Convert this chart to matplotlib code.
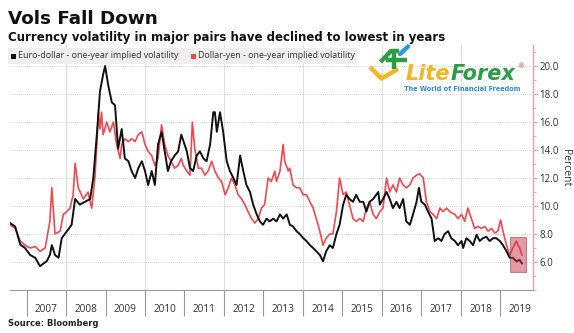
import matplotlib
matplotlib.use("Agg")
import matplotlib.pyplot as plt
from matplotlib.patches import Rectangle
from matplotlib.ticker import MultipleLocator, FixedLocator

# euro-dollar 1y implied vol (decimal year, percent)
eur_t = [2006.58, 2006.71, 2006.84, 2006.96, 2007.09, 2007.22, 2007.34, 2007.43, 2007.51, 2007.59,
         2007.64, 2007.72, 2007.81, 2007.89, 2008.02, 2008.14, 2008.23, 2008.35, 2008.48, 2008.61,
         2008.69, 2008.78, 2008.86, 2008.94, 2008.99, 2009.07, 2009.16, 2009.24, 2009.32, 2009.41,
         2009.49, 2009.58, 2009.66, 2009.75, 2009.83, 2009.92, 2010.00, 2010.08, 2010.17, 2010.25,
         2010.33, 2010.42, 2010.50, 2010.58, 2010.66, 2010.75, 2010.84, 2010.92, 2011.00, 2011.06,
         2011.14, 2011.22, 2011.31, 2011.39, 2011.48, 2011.56, 2011.65, 2011.73, 2011.77, 2011.82,
         2011.90, 2011.94, 2011.98, 2012.07, 2012.15, 2012.24, 2012.32, 2012.41, 2012.49, 2012.57,
         2012.66, 2012.74, 2012.83, 2012.91, 2012.99, 2013.08, 2013.16, 2013.25, 2013.33, 2013.42,
         2013.50, 2013.59, 2013.67, 2013.75, 2013.84, 2013.92, 2014.01, 2014.09, 2014.18, 2014.26,
         2014.34, 2014.43, 2014.51, 2014.59, 2014.68, 2014.76, 2014.85, 2014.93, 2015.02, 2015.10,
         2015.18, 2015.27, 2015.35, 2015.44, 2015.53, 2015.61, 2015.69, 2015.78, 2015.86, 2015.91,
         2015.95, 2016.03, 2016.12, 2016.20, 2016.28, 2016.37, 2016.45, 2016.54, 2016.62, 2016.71,
         2016.79, 2016.88, 2016.94, 2017.00, 2017.09, 2017.17, 2017.26, 2017.34, 2017.43, 2017.51,
         2017.59, 2017.68, 2017.76, 2017.85, 2017.93, 2018.02, 2018.06, 2018.14, 2018.23, 2018.31,
         2018.40, 2018.48, 2018.56, 2018.65, 2018.73, 2018.82, 2018.90, 2018.99, 2019.07, 2019.16,
         2019.24, 2019.32, 2019.41, 2019.49, 2019.55]
eur_v = [8.78, 8.54, 7.24, 7.0, 6.5, 6.3, 5.7, 5.9, 6.05, 6.5,
         7.2, 6.5, 6.3, 7.7, 8.2, 8.65, 10.5, 10.1, 10.3, 10.5,
         12.0, 15.1, 18.2, 19.4, 20.0, 18.6, 17.4, 17.2, 14.1, 15.5,
         13.4, 13.2, 12.5, 12.0, 12.7, 13.2, 12.5, 11.5, 12.5, 11.5,
         14.4, 15.3, 13.9, 12.5, 13.2, 13.6, 13.9, 15.1, 14.4, 13.9,
         12.7, 12.5, 13.6, 13.9, 13.4, 13.2, 14.4, 16.7, 16.7, 15.3,
         16.7, 16.0, 15.3, 13.2, 12.5, 12.0, 11.5, 13.6, 12.5, 11.5,
         11.0, 10.1, 9.4, 8.9, 8.66, 9.1, 8.9, 9.1, 8.9, 9.4,
         9.1, 9.4, 8.66, 8.54, 8.2, 8.0, 7.7, 7.5, 7.2, 7.0,
         6.76, 6.5, 6.05, 6.76, 7.2, 7.0, 8.0, 8.66, 10.1, 10.8,
         10.5, 10.3, 10.8, 10.3, 10.3, 9.6, 10.3, 10.5, 10.8, 11.0,
         10.1, 10.5, 11.0, 10.5, 9.85, 10.3, 9.85, 10.5, 8.9, 8.66,
         9.4, 10.3, 11.3, 10.3, 10.1, 9.6, 9.1, 7.5, 7.7, 7.5,
         8.0, 8.2, 7.7, 7.5, 7.2, 7.5, 7.0, 7.7, 7.5, 7.2,
         7.95, 7.5, 7.7, 7.8, 7.5, 7.7, 7.7, 7.5, 7.2, 6.76,
         6.3, 6.3, 6.05, 6.15, 5.9]

# dollar-yen 1y implied vol
jpy_t = [2006.58, 2006.71, 2006.84, 2006.96, 2007.09, 2007.22, 2007.34, 2007.47, 2007.59, 2007.64,
         2007.72, 2007.85, 2007.93, 2008.02, 2008.10, 2008.18, 2008.23, 2008.31, 2008.44, 2008.56,
         2008.61, 2008.65, 2008.73, 2008.78, 2008.82, 2008.86, 2008.90, 2008.94, 2009.03, 2009.11,
         2009.20, 2009.28, 2009.37, 2009.41, 2009.49, 2009.58, 2009.66, 2009.75, 2009.83, 2009.92,
         2010.00, 2010.08, 2010.17, 2010.25, 2010.33, 2010.42, 2010.50, 2010.58, 2010.66, 2010.75,
         2010.84, 2010.92, 2010.97, 2011.06, 2011.14, 2011.20, 2011.26, 2011.35, 2011.43, 2011.52,
         2011.60, 2011.69, 2011.77, 2011.86, 2011.94, 2012.03, 2012.11, 2012.19, 2012.28, 2012.36,
         2012.45, 2012.53, 2012.61, 2012.70, 2012.78, 2012.87, 2012.95, 2013.03, 2013.12, 2013.20,
         2013.29, 2013.33, 2013.42, 2013.50, 2013.54, 2013.63, 2013.67, 2013.75, 2013.84, 2013.92,
         2014.01, 2014.09, 2014.18, 2014.26, 2014.34, 2014.43, 2014.51, 2014.59, 2014.68, 2014.76,
         2014.85, 2014.93, 2015.02, 2015.10, 2015.18, 2015.27, 2015.35, 2015.44, 2015.53, 2015.61,
         2015.69, 2015.78, 2015.86, 2015.95, 2016.03, 2016.12, 2016.20, 2016.28, 2016.37, 2016.45,
         2016.54, 2016.62, 2016.71, 2016.79, 2016.88, 2016.96, 2017.05, 2017.13, 2017.22, 2017.30,
         2017.39, 2017.47, 2017.55, 2017.64, 2017.72, 2017.85, 2017.93, 2018.02, 2018.10, 2018.18,
         2018.27, 2018.35, 2018.44, 2018.52, 2018.61, 2018.69, 2018.78, 2018.86, 2018.94, 2019.01,
         2019.07, 2019.16, 2019.24, 2019.32, 2019.41, 2019.45, 2019.49, 2019.55]
jpy_v = [8.66, 8.4, 7.5, 7.2, 7.0, 7.1, 6.76, 7.0, 8.9, 11.3,
         8.0, 8.2, 9.4, 9.6, 9.85, 10.8, 13.05, 11.3, 10.5, 11.0,
         10.3, 9.85, 12.0, 14.4, 16.7, 15.5, 16.7, 15.1, 16.0, 15.3,
         16.0, 14.4, 13.4, 14.4, 14.8, 14.6, 14.8, 14.6, 15.1, 15.3,
         14.4, 13.9, 13.6, 12.9, 13.4, 15.8, 14.4, 13.6, 13.2, 12.7,
         12.9, 13.4, 12.9, 12.5, 12.2, 16.0, 14.1, 12.7, 12.7, 12.2,
         12.5, 13.2, 12.5, 12.0, 11.75, 10.8, 11.3, 12.0, 11.5, 10.8,
         10.5, 10.1, 9.6, 9.1, 8.78, 9.1, 9.85, 10.1, 12.0, 11.75,
         12.5, 11.75, 12.5, 14.4, 13.2, 12.5, 12.7, 11.5, 11.3, 11.3,
         10.8, 10.8, 10.3, 9.85, 9.1, 8.2, 7.2, 7.7, 8.0, 8.0,
         9.6, 12.0, 10.8, 11.0, 10.1, 9.1, 8.9, 9.1, 8.9, 9.85,
         10.3, 9.4, 9.1, 9.6, 9.85, 12.0, 11.0, 11.5, 11.0, 12.0,
         11.5, 11.3, 11.5, 12.0, 12.2, 12.3, 12.0, 10.3, 9.6, 9.4,
         9.1, 9.85, 9.6, 9.85, 9.6, 9.4, 9.1, 9.4, 8.9, 9.85,
         9.1, 8.4, 8.54, 8.4, 8.54, 8.2, 8.4, 8.07, 8.2, 9.0,
         8.2, 7.2, 6.5, 7.0, 7.5, 7.2, 7.0, 6.5]

years = list(range(2007, 2020))
year_labels = [str(y) for y in years]
grid_years = [2008, 2010, 2012, 2014, 2016, 2018]
y_ticks = [6, 8, 10, 12, 14, 16, 18, 20]

BLACK = "#111111"
RED = "#eb4a52"
PINK = "#e6a2aa"
TXT = "#333333"

W, H = 574, 333
fig = plt.figure(figsize=(W / 100, H / 100), dpi=100)
fig.patch.set_facecolor("white")

ax = fig.add_axes([10 / W, 1 - 290 / H, 523 / W, 245 / H])
ax.set_xlim(2006.58, 2019.83)
ax.set_ylim(4.0, 21.5)

# grid
for g in y_ticks:
    ax.axhline(g, color="#c8c8c8", lw=0.6, ls=(0, (1, 1.5)), zorder=0)
for g in grid_years:
    ax.axvline(g, color="#dedede", lw=0.8, zorder=0)

ax.plot(jpy_t, jpy_v, color=RED, lw=1.2, zorder=2)
ax.plot(eur_t, eur_v, color=BLACK, lw=1.4, zorder=3)

# highlight box on the last months
ax.add_patch(Rectangle((2019.24, 5.26), 0.41, 2.56, facecolor="#c9384c", alpha=0.5,
                       edgecolor="#a3283a", lw=0.8, zorder=4))

# spines
for s in ["top", "left"]:
    ax.spines[s].set_visible(False)
ax.spines["bottom"].set_color("#999999")
ax.spines["bottom"].set_linewidth(0.8)
ax.spines["right"].set_color(PINK)
ax.spines["right"].set_linewidth(1.0)

# y axis on the right
ax.yaxis.tick_right()
ax.yaxis.set_label_position("right")
ax.set_yticks(y_ticks)
ax.set_yticklabels(["%.1f" % v for v in y_ticks])
ax.yaxis.set_minor_locator(MultipleLocator(1))
ax.tick_params(axis="y", which="major", colors=PINK, labelcolor=TXT, length=3,
               width=0.8, pad=1.5, labelsize=7)
ax.tick_params(axis="y", which="minor", colors=PINK, length=2, width=0.6)
for lab in ax.get_yticklabels():
    lab.set_fontfamily("Open Sans")
ax.set_ylabel("Percent", rotation=270, fontsize=7.5, color=TXT, family="Open Sans",
              labelpad=9)

# x axis: long separators at year starts, labels in the middle of each year
ax.xaxis.set_major_locator(FixedLocator(years))
ax.xaxis.set_minor_locator(FixedLocator([y + 0.5 for y in years]))
ax.set_xticklabels([""] * len(years))
ax.set_xticklabels(year_labels, minor=True)
ax.tick_params(axis="x", which="major", color="#999999", length=19, width=0.8)
ax.tick_params(axis="x", which="minor", length=0, pad=10, labelsize=7.2, labelcolor=TXT)
for lab in ax.get_xticklabels(minor=True):
    lab.set_fontfamily("Open Sans")

# overlay in pixel coordinates for titles, legend and watermark
ov = fig.add_axes([0, 0, 1, 1], zorder=10)
ov.set_xlim(0, W)
ov.set_ylim(H, 0)
ov.axis("off")
ov.patch.set_alpha(0)

ov.text(8, 19, "Vols Fall Down", fontsize=13.2, fontweight="bold", va="center", color="#111111")
ov.text(8, 37, "Currency volatility in major pairs have declined to lowest in years",
        fontsize=8.45, fontweight="bold", va="center", color="#111111")
ov.text(8, 323, "Source: Bloomberg", fontsize=6, fontweight="bold", va="center", color="#222222")

# legend band
ov.add_patch(Rectangle((8, 48), 349, 16, facecolor="#efefef", edgecolor="none"))
ov.add_patch(Rectangle((11, 53.5), 5, 5, facecolor=BLACK, edgecolor="none"))
ov.text(18, 56, "Euro-dollar - one-year implied volatility", fontsize=6.4, family="Open Sans",
        va="center", color=TXT)
ov.add_patch(Rectangle((191, 53.5), 5, 5, facecolor=RED, edgecolor="none"))
ov.text(198, 56, "Dollar-yen - one-year implied volatility", fontsize=6.4, family="Open Sans",
        va="center", color=TXT)

# LiteForex watermark
ov.plot([370, 381.5, 398], [67, 78.5, 69], color="#f3b526", lw=3.2, solid_capstyle="butt")
ov.plot([380.5, 391, 399], [62, 51, 51], color="#2e9c45", lw=3.2, solid_capstyle="butt")
ov.plot([386, 407], [60, 60], color="#2e9c45", lw=3.2, solid_capstyle="butt")
ov.plot([394, 394], [53, 69], color="#2e9c45", lw=3.2, solid_capstyle="butt")
ov.plot([400, 408], [54, 46.5], color="#2b9be0", lw=3.2, solid_capstyle="round")
ov.text(406, 74, "Lite", fontsize=15, fontweight="bold", style="italic", color="#f3b526",
        va="center")
ov.text(451, 74, "Forex", fontsize=15, fontweight="bold", style="italic", color="#2e9c45",
        va="center")
ov.text(518, 66, "\u00ae", fontsize=5, color="#e04040", va="center")
ov.text(404, 89, "The World of Financial Freedom", fontsize=4.7, fontweight="bold",
        color="#2b8fd6", va="center")

fig.savefig("out.png", dpi=100)
